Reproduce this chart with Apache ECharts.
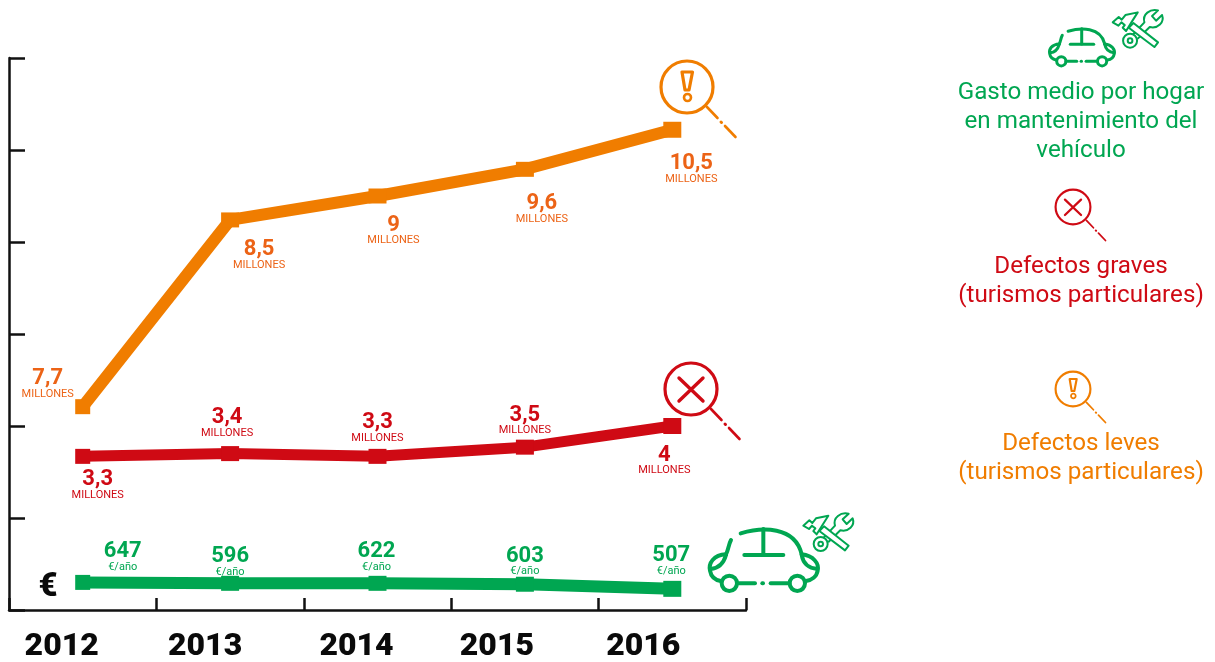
<!DOCTYPE html>
<html>
<head>
<meta charset="utf-8">
<style>html,body{margin:0;padding:0;background:#fff}#c{width:1215px;height:662px}</style>
<script src="https://cdn.jsdelivr.net/npm/echarts@6/dist/echarts.min.js"></script>
</head>
<body>
<div id="c"></div>
<script>
const years = ['2012', '2013', '2014', '2015', '2016'];
// Line heights as drawn in the picture (the source chart's axis has no numeric scale)
const levesPos = [2.21, 4.24, 4.50, 4.79, 5.22];
const gravesPos = [1.67, 1.70, 1.67, 1.77, 2.00];
const gastoPos = [0.30, 0.29, 0.29, 0.28, 0.23];
// Printed values
const levesLabels = ['7,7', '8,5', '9', '9,6', '10,5'];
const gravesLabels = ['3,3', '3,4', '3,3', '3,5', '4'];
const gastoLabels = ['647', '596', '622', '603', '507'];

const ORANGE = '#f07d00', RED = '#cf0a14', GREEN = '#00a651', LABEL_ORANGE = '#ec6316';
const FONT = 'Roboto';
const yearShift = [-21, -25, -21, -28, -29];
const levesOff = [[-35, -22], [29, 36], [16, 35], [17, 40], [19, 40]];
const gravesOff = [[15, 29], [-3, -30], [0, -28], [0, -26], [-8, 35]];
const gastoOff = [[40, -25], [0, -21], [-1, -26], [0, -22], [-1, -27]];
const sizes = [[15, 15], [18, 15], [18, 15], [18, 15], [18, 16]];

function seriesOf(name, pos, labels, unit, color, valueColor, off, lw, sz) {
  return {
    name, type: 'line', symbol: 'rect', lineStyle: { color, width: lw }, itemStyle: { color },
    z: 3, animation: false,
    data: pos.map((v, i) => ({
      value: v,
      symbolSize: sz[i],
      label: {
        show: true, position: 'inside', offset: off[i], align: 'center', verticalAlign: 'middle',
        formatter: () => '{v|' + labels[i] + '}\n{u|' + unit + '}',
        rich: {
          v: { fontFamily: FONT, fontWeight: 'bold', fontSize: 22, lineHeight: 19, color: valueColor, align: 'center' },
          u: { fontFamily: FONT, fontSize: 11, lineHeight: 12, color: valueColor, align: 'center' }
        }
      }
    }))
  };
}

const shapeCache = {};
function pathType(d) {
  if (!shapeCache[d]) {
    const name = 'iconPath' + Object.keys(shapeCache).length;
    echarts.graphic.registerShape(name, echarts.graphic.extendPath(d, {}));
    shapeCache[d] = name;
  }
  return shapeCache[d];
}
function line(d, color, lw) {
  return { type: pathType(d), silent: true,
    style: { fill: 'none', stroke: color, lineWidth: lw, lineCap: 'round', lineJoin: 'round' } };
}
function filled(d, color, lw) {
  return { type: pathType(d), silent: true,
    style: { fill: '#fff', stroke: color, lineWidth: lw, lineCap: 'round', lineJoin: 'round' } };
}
function ring(cx, cy, r, color, lw, fill) {
  return { type: 'circle', shape: { cx, cy, r }, silent: true, style: { fill: fill || 'none', stroke: color, lineWidth: lw } };
}
function magnifier(x, y, s, color, inner) {
  return { type: 'group', x, y, scaleX: s, scaleY: s, silent: true, children: [
    ring(0, 0, 26, color, 3.2),
    line('M20,20 L30.5,31', color, 2.6),
    line('M34,35 L34.5,35.5', color, 3),
    line('M38,39 L48.5,50', color, 2.6)
  ].concat(inner) };
}
const warn = [line('M-5,-15 L5.5,-15 L2,3 L-2,3 Z', ORANGE, 3.2), ring(0.5, 10.5, 3.5, ORANGE, 2.6)];
const cross = [line('M-12,-11 L12,12 M12,-11 L-12,12', RED, 3.4)];

function car(x, y, s, lw) {
  return { type: 'group', x, y, scaleX: s, scaleY: s, silent: true, children: [
    line('M122,85 C185,66 285,62 305,148', GREEN, lw),
    line('M93,105 C85,120 85,135 78,148', GREEN, lw),
    line('M78,148 C40,150 25,175 30,197 C33,215 45,225 62,228', GREEN, lw),
    line('M78,150 C70,178 55,190 32,192', GREEN, lw),
    line('M305,148 C340,152 358,175 353,197 C350,215 335,226 318,228', GREEN, lw),
    line('M305,150 C310,178 328,190 352,192', GREEN, lw),
    ring(88, 235, 23, GREEN, lw), ring(292, 235, 23, GREEN, lw),
    line('M112,235 L165,235', GREEN, lw), line('M187,235 L189,235', GREEN, lw), line('M212,235 L268,235', GREEN, lw),
    line('M190,72 L190,148', GREEN, lw), line('M133,150 L250,150', GREEN, lw)
  ] };
}
function tools(x, y, s) {
  const lw = 6;
  return { type: 'group', x, y, scaleX: s, scaleY: s, silent: true, children: [
    ring(362, 117, 21, GREEN, lw, '#fff'), ring(362, 117, 7, GREEN, lw),
    line('M372,97 L405,62 C398,38 422,20 446,26 L428,43 L440,57 L458,40 C466,62 445,82 421,76 L386,110', GREEN, lw),
    filled('M372,64 L446,122 L435,136 L358,78 Z', GREEN, lw),
    filled('M310,62 L328,46 L337,54 L348,40 L385,32 L366,62 L350,88 L340,78 L346,70 L336,62 L327,72 Z', GREEN, lw)
  ] };
}
function legendText(lines, y, color) {
  return lines.map((t, i) => ({ type: 'text', x: 1081, y: y + i * 29, silent: true,
    style: { text: t, fill: color, font: '24.2px ' + FONT, textAlign: 'center', textVerticalAlign: 'middle' } }));
}

const chart = echarts.init(document.getElementById('c'), null, { renderer: 'canvas' });
chart.setOption({
  animation: false,
  backgroundColor: '#fff',
  grid: { left: 9, right: 469, top: 58, bottom: 52, containLabel: false, outerBoundsMode: 'none' },
  xAxis: {
    type: 'category', data: years, boundaryGap: true,
    axisLine: { lineStyle: { color: '#111', width: 2.5 } },
    axisTick: { show: true, inside: true, length: 12, lineStyle: { color: '#111', width: 2.5 } },
    axisLabel: {
      margin: 21, interval: 0,
      formatter: (v, i) => '{y' + i + '|' + v + '}',
      rich: Object.fromEntries(years.map((_, i) => ['y' + i, {
        fontFamily: FONT, fontWeight: 900, fontSize: 32, color: '#0a0a0a',
        padding: [0, -2 * yearShift[i], 0, 0]
      }]))
    }
  },
  yAxis: {
    type: 'value', min: 0, max: 6, interval: 1,
    axisLine: { show: true, lineStyle: { color: '#111', width: 2.5 } },
    axisTick: { show: true, inside: true, length: 16, lineStyle: { color: '#111', width: 2.5 } },
    axisLabel: { show: false }, splitLine: { show: false }
  },
  series: [
    seriesOf('Defectos leves', levesPos, levesLabels, 'MILLONES', ORANGE, LABEL_ORANGE, levesOff, 12, sizes),
    seriesOf('Defectos graves', gravesPos, gravesLabels, 'MILLONES', RED, RED, gravesOff, 11, sizes),
    seriesOf('Gasto medio', gastoPos, gastoLabels, '€/año', GREEN, GREEN, gastoOff, 12, sizes)
  ],
  graphic: [
    magnifier(687, 87, 1, ORANGE, warn),
    magnifier(691, 389, 1, RED, cross),
    magnifier(1073, 207, 0.67, RED, cross),
    magnifier(1073, 389, 0.67, ORANGE, warn),
    car(700, 505, 1 / 3, 12),
    tools(700, 505, 1 / 3),
    car(1043.7, 14.3, 0.2, 15),
    tools(1009.4, 1.7, 1 / 3),
    { type: 'text', x: 48, y: 588, silent: true,
      style: { text: '€', fill: '#0a0a0a', font: '900 33px ' + FONT, textAlign: 'center', textVerticalAlign: 'middle' } }
  ].concat(
    legendText(['Gasto medio por hogar', 'en mantenimiento del', 'vehículo'], 93, GREEN),
    legendText(['Defectos graves', '(turismos particulares)'], 267, RED),
    legendText(['Defectos leves', '(turismos particulares)'], 444, ORANGE)
  )
});
</script>
</body>
</html>
